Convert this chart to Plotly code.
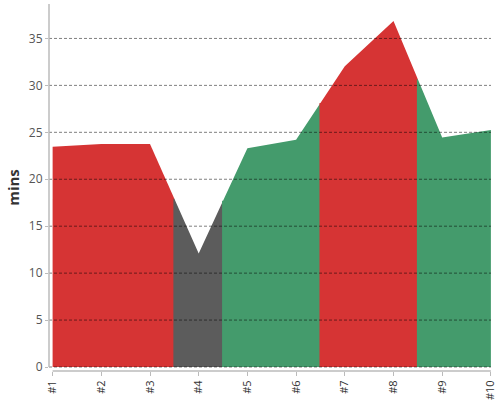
import plotly.graph_objects as go

categories = ["#1", "#2", "#3", "#4", "#5", "#6", "#7", "#8", "#9", "#10"]
values = [23.45, 23.75, 23.75, 12.1, 23.3, 24.2, 32.05, 36.85, 24.45, 25.25]
status = ["red", "red", "red", "grey", "green", "green", "red", "red", "green", "green"]
y_ticks = [0, 5, 10, 15, 20, 25, 30, 35]

colors = {"red": "#d63434", "grey": "#5c5c5c", "green": "#449b6c"}

n = len(values)
xs = list(range(n))

# group consecutive points of same status into runs
runs = []
start = 0
for i in range(1, n + 1):
    if i == n or status[i] != status[start]:
        runs.append((start, i - 1))
        start = i

fig = go.Figure()
for a, b in runs:
    sx, sy = [], []
    if a > 0:
        mid = (values[a - 1] + values[a]) / 2
        sx += [a - 0.52, a - 0.5]   # tiny overlap hides antialias seam
        sy += [mid, mid]
    for k in range(a, b + 1):
        sx.append(xs[k])
        sy.append(values[k])
    if b < n - 1:
        sx.append(b + 0.5)
        sy.append((values[b] + values[b + 1]) / 2)
    fig.add_trace(go.Scatter(
        x=sx, y=sy, mode="lines", fill="tozeroy",
        line=dict(width=0, color=colors[status[a]]),
        fillcolor=colors[status[a]], hoverinfo="skip", showlegend=False,
    ))

ymin, ymax = -0.426, 38.67
xmin, xmax = -0.074, n - 1 + 0.002

# gridlines above fills
for v in y_ticks:
    fig.add_shape(type="line", xref="paper", yref="y", x0=0, x1=1, y0=v, y1=v,
                  line=dict(color="rgba(0,0,0,0.5)", width=1, dash="3px,2px"), layer="above")
# axis lines (offset d3-style)
fig.add_shape(type="line", xref="paper", yref="y", x0=0, x1=0, y0=0, y1=ymax,
              line=dict(color="#bbbbbb", width=1.5), layer="above")
fig.add_shape(type="line", xref="x", yref="paper", x0=0, x1=n - 1, y0=0, y1=0,
              line=dict(color="#bbbbbb", width=1.5), layer="above")

fig.update_layout(
    width=500, height=400,
    margin=dict(l=48.7, r=9, t=4, b=29, autoexpand=False),
    paper_bgcolor="white", plot_bgcolor="white",
    font=dict(family="Open Sans", color="#444"),
    xaxis=dict(range=[xmin, xmax], tickmode="array", tickvals=xs, ticktext=categories,
               tickangle=-90, ticks="outside", ticklen=4, tickcolor="#bbbbbb",
               showgrid=False, zeroline=False, showline=False, automargin=False,
               tickfont=dict(size=11, color="#333")),
    yaxis=dict(range=[ymin, ymax], tickmode="array", tickvals=y_ticks,
               ticks="outside", ticklen=3, tickcolor="#bbbbbb",
               showgrid=False, zeroline=False, showline=False, automargin=False,
               tickfont=dict(size=12, color="#555"),
               title=dict(text="<b>mins</b>", font=dict(size=15, color="#333"), standoff=5)),
)

fig.write_html("out.html")
